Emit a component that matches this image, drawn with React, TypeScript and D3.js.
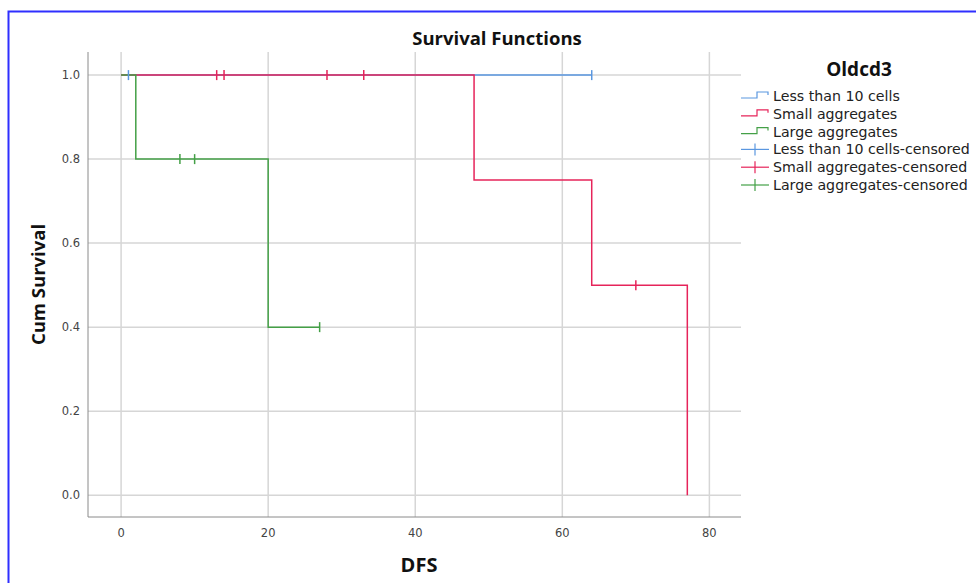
import React from "react";
import * as d3 from "d3";

// Kaplan-Meier steps for each Oldcd3 group
const lessTimes = [0, 64];
const lessSurv = [1, 1];
const lessCensored = [1, 64];

const smallTimes = [0, 48, 64, 77];
const smallSurv = [1, 0.75, 0.5, 0];
const smallCensored = [13, 14, 28, 33, 70];

const largeTimes = [0, 2, 20, 27];
const largeSurv = [1, 0.8, 0.4, 0.4];
const largeCensored = [8, 10, 27];

const xTicks = [0, 20, 40, 60, 80];
const yTicks = [0, 0.2, 0.4, 0.6, 0.8, 1.0];

const groups = [
  { name: "Less than 10 cells", color: "#5a97e0", times: lessTimes, surv: lessSurv, censored: lessCensored },
  { name: "Small aggregates", color: "#e6245a", times: smallTimes, surv: smallSurv, censored: smallCensored },
  { name: "Large aggregates", color: "#44a047", times: largeTimes, surv: largeSurv, censored: largeCensored },
];

const W = 976;
const H = 583;
const margin = { left: 88, top: 52, right: 235, bottom: 66 };

const App = () => {
  const x = d3.scaleLinear().domain([-4.5, 84.3]).range([margin.left, W - margin.right]);
  const y = d3.scaleLinear().domain([-0.052, 1.055]).range([H - margin.bottom, margin.top]);

  const stepLine = d3
    .line<[number, number]>()
    .x((d) => x(d[0]))
    .y((d) => y(d[1]))
    .curve(d3.curveStepAfter);

  const survAt = (g, t) => {
    let s = 1;
    g.times.forEach((tt, i) => {
      if (tt <= t) s = g.surv[i];
    });
    return s;
  };

  const font = '"Open Sans", sans-serif';
  const legendFont = '"DejaVu Sans", sans-serif';
  const x0 = x.range()[0];
  const x1 = x.range()[1];
  const yb = y.range()[0];
  const yt = y.range()[1];

  const legendItems = [
    ...groups.map((g) => ({ label: g.name, color: g.color, kind: "step" })),
    ...groups.map((g) => ({ label: g.name + "-censored", color: g.color, kind: "cross" })),
  ];

  return (
    <svg width={W} height={H} style={{ position: "absolute", left: 0, top: 0 }}>
      <rect x={8.5} y={11.5} width={1200} height={1200} fill="white" stroke="#2f2fff" strokeWidth={2} />

      {/* grid */}
      {xTicks.map((t) => (
        <line key={"gx" + t} x1={x(t)} x2={x(t)} y1={yt} y2={yb} stroke="#d6d6d6" strokeWidth={1.5} />
      ))}
      {yTicks.map((t) => (
        <line key={"gy" + t} x1={x0} x2={x1} y1={y(t)} y2={y(t)} stroke="#d6d6d6" strokeWidth={1.5} />
      ))}

      {/* axes */}
      <line x1={x0} x2={x0} y1={yt} y2={yb} stroke="#8a8a8a" strokeWidth={1} />
      <line x1={x0} x2={x1} y1={yb} y2={yb} stroke="#8a8a8a" strokeWidth={1} />
      {xTicks.map((t) => (
        <text key={"tx" + t} x={x(t)} y={yb + 20} textAnchor="middle" fontSize={11.5} fontFamily={legendFont} fill="#444">
          {t}
        </text>
      ))}
      {yTicks.map((t) => (
        <text key={"ty" + t} x={x0 - 8} y={y(t) + 4} textAnchor="end" fontSize={11.5} fontFamily={legendFont} fill="#444">
          {t.toFixed(1)}
        </text>
      ))}

      {/* curves */}
      {groups.map((g) => (
        <path
          key={g.name}
          d={stepLine(g.times.map((t, i) => [t, g.surv[i]]) as [number, number][]) || ""}
          fill="none"
          stroke={g.color}
          strokeWidth={1.5}
        />
      ))}
      {groups.map((g) =>
        g.censored.map((c, i) => {
          const cy = y(survAt(g, c));
          return (
            <line key={g.name + "c" + i} x1={x(c)} x2={x(c)} y1={cy - 5} y2={cy + 5} stroke={g.color} strokeWidth={1.5} />
          );
        })
      )}

      {/* titles */}
      <text x={497} y={45} textAnchor="middle" fontSize={18.5} fontWeight="bold" fontFamily={font} fill="#111">
        Survival Functions
      </text>
      <text x={419} y={572} textAnchor="middle" fontSize={20} fontWeight="bold" fontFamily={font} fill="#111">
        DFS
      </text>
      <text
        transform={`translate(45, ${(yt + yb) / 2}) rotate(-90)`}
        textAnchor="middle"
        fontSize={18.5}
        fontWeight="bold"
        fontFamily={font}
        fill="#111"
      >
        Cum Survival
      </text>

      {/* legend */}
      <text x={859} y={76} textAnchor="middle" fontSize={19} fontWeight="bold" fontFamily={font} fill="#111">
        Oldcd3
      </text>
      {legendItems.map((it, i) => {
        const ly = 96 + i * 17.8;
        return (
          <g key={it.label}>
            {it.kind === "step" ? (
              <path
                d={`M741,${ly + 2}H757V${ly - 4}H768V${ly - 1}`}
                fill="none"
                stroke={it.color}
                strokeWidth={1.2}
              />
            ) : (
              <g>
                <line x1={741} x2={769} y1={ly} y2={ly} stroke={it.color} strokeWidth={1.2} />
                <line x1={755} x2={755} y1={ly - 6} y2={ly + 6} stroke={it.color} strokeWidth={1.2} />
              </g>
            )}
            <text x={773} y={ly + 5} fontSize={14.2} fontFamily={legendFont} fill="#222">
              {it.label}
            </text>
          </g>
        );
      })}
    </svg>
  );
};

export default App;
